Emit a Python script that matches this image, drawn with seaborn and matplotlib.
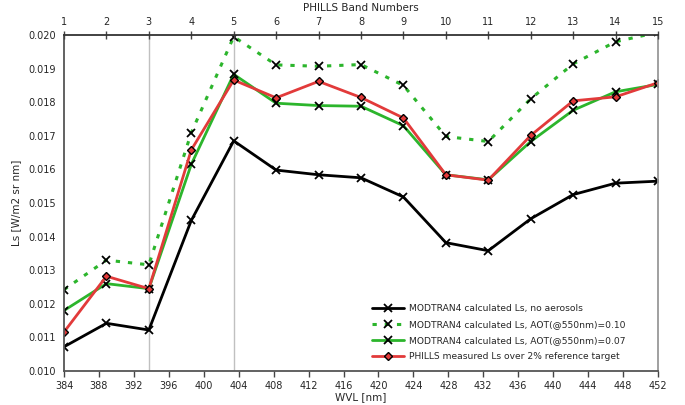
import numpy as np
import pandas as pd
import matplotlib
matplotlib.use("Agg")
import matplotlib.pyplot as plt
import seaborn as sns
from matplotlib.ticker import FormatStrFormatter

bands = list(range(1, 16))
band_step = 68.0 / 14.0
wvl = [384 + (b - 1) * band_step for b in bands]

no_aerosol = [0.01072, 0.01142, 0.01122, 0.01448, 0.01685, 0.01598, 0.01584, 0.01575,
              0.01518, 0.01382, 0.01358, 0.01453, 0.01525, 0.01559, 0.01565]
aot_010 = [0.01242, 0.01330, 0.01316, 0.01709, 0.01995, 0.01911, 0.01907, 0.01912,
           0.01850, 0.01698, 0.01683, 0.01810, 0.01914, 0.01980, 0.02008]
aot_007 = [0.01180, 0.01260, 0.01245, 0.01615, 0.01883, 0.01797, 0.01790, 0.01788,
           0.01730, 0.01584, 0.01569, 0.01683, 0.01776, 0.01831, 0.01853]
phills = [0.01116, 0.01282, 0.01245, 0.01658, 0.01866, 0.01813, 0.01862, 0.01814,
          0.01753, 0.01584, 0.01568, 0.01701, 0.01804, 0.01816, 0.01858]

labels = ["MODTRAN4 calculated Ls, no aerosols",
          "MODTRAN4 calculated Ls, AOT(@550nm)=0.10",
          "MODTRAN4 calculated Ls, AOT(@550nm)=0.07",
          "PHILLS measured Ls over 2% reference target"]

xticks = list(range(384, 453, 4))
yticks = [0.010 + 0.001 * i for i in range(11)]

sns.set_style("white")
plt.rcParams['font.family'] = ['DejaVu Sans']

fig = plt.figure(figsize=(6.85, 4.05), dpi=100)
ax = fig.add_axes([64/685, 1 - 371/405, 594/685, 336/405])

green = "#2cb52c"
red = "#e23a3a"

for xv in (wvl[2], wvl[4]):
    ax.axvline(xv, color="#c0c0c0", lw=1.0, zorder=0)

sns.lineplot(x=wvl, y=no_aerosol, ax=ax, color="black", lw=2, marker="x",
             markersize=6, markeredgewidth=1.3, markeredgecolor="black",
             label=labels[0], sort=False)
sns.lineplot(x=wvl, y=aot_010, ax=ax, color=green, lw=2.2, linestyle=(0, (1.4, 2.6)),
             marker="x", markersize=6, markeredgewidth=1.3, markeredgecolor="black",
             label=labels[1], sort=False)
sns.lineplot(x=wvl, y=aot_007, ax=ax, color=green, lw=2, marker="x",
             markersize=6, markeredgewidth=1.3, markeredgecolor="black",
             label=labels[2], sort=False)
sns.lineplot(x=wvl, y=phills, ax=ax, color=red, lw=2, marker="D",
             markersize=4.2, markeredgewidth=1.0, markeredgecolor="black",
             markerfacecolor=red, label=labels[3], sort=False)

ax.set_xlim(384, 452)
ax.set_ylim(0.010, 0.020)
ax.set_xticks(xticks)
ax.set_yticks(yticks)
ax.yaxis.set_major_formatter(FormatStrFormatter("%.3f"))
ax.tick_params(axis="x", direction="out", length=4, width=1, labelsize=7, color="#444444", pad=3)
ax.tick_params(axis="y", direction="inout", length=6, width=1, labelsize=7, color="#444444", pad=3)
ax.set_xlabel("WVL [nm]", fontsize=7.5, labelpad=1)
ax.set_ylabel("Ls [W/m2 sr nm]", fontsize=7.5, labelpad=5)

for s in ("left", "bottom"):
    ax.spines[s].set_color("#555555")
    ax.spines[s].set_linewidth(1.3)
ax.spines["right"].set_color("#999999")
ax.spines["right"].set_linewidth(1.3)
ax.spines["top"].set_visible(False)

top = ax.twiny()
top.set_xlim(384, 452)
top.set_xticks(wvl)
top.set_xticklabels([str(b) for b in bands])
top.tick_params(axis="x", direction="inout", length=6, width=1, labelsize=7, color="#444444", pad=3)
top.set_xlabel("PHILLS Band Numbers", fontsize=7.5, labelpad=4)
for s in ("left", "right", "bottom"):
    top.spines[s].set_visible(False)
top.spines["top"].set_color("#333333")
top.spines["top"].set_linewidth(1.3)

ax.legend(loc="lower left", bbox_to_anchor=(0.519, 0.03), frameon=False,
          fontsize=6.6, handlelength=3.5, handletextpad=0.5, borderpad=0,
          borderaxespad=0, labelspacing=0.75)

fig.savefig("out.png", dpi=100)
